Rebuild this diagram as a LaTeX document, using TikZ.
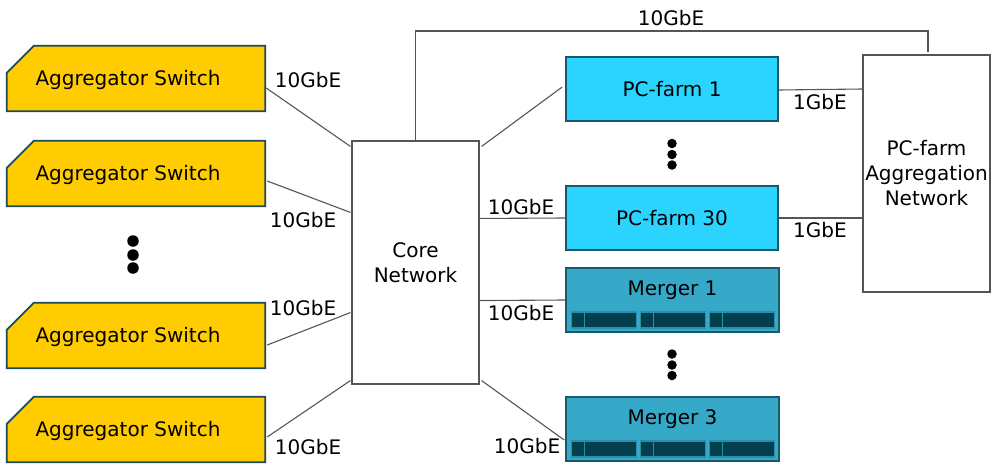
\documentclass[tikz,border=0pt]{standalone}
\usepackage{fontspec}
\setmainfont{DejaVu Sans}
\usetikzlibrary{calc,backgrounds}
\definecolor{swfill}{HTML}{FFCC00}
\definecolor{swedge}{HTML}{1A4A5C}
\definecolor{pcfill}{HTML}{2AD4FF}
\definecolor{pcedge}{HTML}{17596B}
\definecolor{mgfill}{HTML}{37A9C8}
\definecolor{mgedge}{HTML}{145B6E}
\definecolor{slotfill}{HTML}{043F50}
\definecolor{slotedge}{HTML}{2A8EA8}
\definecolor{linkgray}{HTML}{555555}
\tikzset{
  boxtext/.style={text height=14.8pt, text depth=0pt},
  switchbox/.style={minimum width=258pt, minimum height=65pt, inner sep=0pt, boxtext},
  switchshape/.style={draw=swedge, fill=swfill, line width=1.8pt},
  pcbox/.style={draw=pcedge, fill=pcfill, line width=1.6pt, minimum width=212pt, minimum height=64pt, inner sep=0pt, boxtext},
  mergerbox/.style={draw=mgedge, fill=mgfill, line width=1.6pt, minimum width=213pt, minimum height=64pt, inner sep=0pt},
  netbox/.style={draw=linkgray, fill=white, line width=1.1pt, inner sep=0pt, align=center},
  link/.style={draw=linkgray, line width=1.1pt},
  rate/.style={inner sep=0pt},
  dot/.style={circle, fill=black, inner sep=0pt, minimum size=#1},
  slot/.style={draw=slotedge, fill=slotfill, line width=1.4pt}
}
\begin{document}
\begin{tikzpicture}[x=1pt, y=-1pt, font=\fontsize{20}{25}\selectfont]
\useasboundingbox (0,0) rectangle (992,463);

% aggregator switches
\foreach \n/\y in {sw1/78.5, sw2/173.5, sw3/335.5, sw4/429.5}{
  \node[switchbox] (\n) at (136,\y) {\hspace*{-16pt}Aggregator Switch};
}
\begin{scope}[on background layer]
  \foreach \n in {sw1,sw2,sw3,sw4}{
    \draw[switchshape] (\n.south west) -- ([yshift=-27pt]\n.north west)
      -- ([xshift=27pt]\n.north west) -- (\n.north east) -- (\n.south east) -- cycle;
  }
\end{scope}

% core and aggregation networks
\node[netbox, minimum width=127pt, minimum height=243pt] (core) at (415.5,262.5) {Core\\Network};
\node[netbox, minimum width=127pt, minimum height=237pt] (agg) at (926.5,173.5) {PC-farm\\Aggregation\\Network};

% PC farms
\node[pcbox] (pc1) at (672,89) {PC-farm 1};
\node[pcbox] (pc30) at (672,218) {PC-farm 30};

% mergers with their drive slots
\foreach \n/\y/\t in {mg1/300/Merger 1, mg3/429/Merger 3}{
  \node[mergerbox, label={[yshift=12pt, inner sep=0pt, boxtext]center:\t}] (\n) at (672.5,\y) {};
  \foreach \i in {0,1,2}{
    \draw[slot] ([xshift={6pt+69pt*\i}, yshift=5pt]\n.south west) rectangle ([xshift={71pt+69pt*\i}, yshift=21pt]\n.south west);
    \draw[slotedge, line width=1.1pt] ([xshift={19pt+69pt*\i}, yshift=5pt]\n.south west) -- ([xshift={19pt+69pt*\i}, yshift=21pt]\n.south west);
  }
}

% ellipsis dots
\foreach \y [count=\k] in {241,255,268}{ \node[dot=11.5pt] (ld\k) at (133,\y) {}; }
\foreach \y [count=\k] in {143.5,154.5,165}{ \node[dot=9.5pt] (pd\k) at (672,\y) {}; }
\foreach \y [count=\k] in {354,365,375.5}{ \node[dot=9.5pt] (md\k) at (672,\y) {}; }

% switch uplinks
\draw[link] ([xshift=1pt, yshift=-9.5pt]sw1.east) -- ([xshift=-1pt, yshift=-6pt]core.north west);
\draw[link] ([xshift=2pt, yshift=-7.5pt]sw2.east) -- ([xshift=-1pt, yshift=-72pt]core.north west);
\draw[link] ([xshift=2pt, yshift=-9.5pt]sw3.east) -- ([xshift=-1pt, yshift=72pt]core.south west);
\draw[link] ([xshift=2pt, yshift=-7.5pt]sw4.east) -- ([xshift=-1pt, yshift=4pt]core.south west);

% core to farms and mergers
\draw[link] ([xshift=2pt, yshift=-6pt]core.north east) -- ([xshift=-3pt, yshift=2pt]pc1.west);
\draw[link] ([yshift=-78pt]core.north east) -- (pc30.west);
\draw[link] ([yshift=84pt]core.south east) -- (mg1.west);
\draw[link] ([xshift=2pt, yshift=4pt]core.south east) -- ([xshift=-1pt, yshift=-11pt]mg3.west);

% farms to aggregation network
\draw[link] ([yshift=-1pt]pc1.east) -- (pc1.east -| agg.west);
\draw[link] (pc30.east) -- (pc30.east -| agg.west);

% core to aggregation network over the top
\coordinate (topleft) at (core.north |- 0,31);
\coordinate (topright) at (928,31);
\draw[link] (core.north) -- (topleft) -- (topright) -- ([yshift=2pt]topright |- agg.north);

% link rates
\node[rate] (r0) at (671,18) {10GbE};
\node[rate] (r1) at (308,80) {10GbE};
\node[rate] (r2) at (303,220) {10GbE};
\node[rate] (r3) at (303,308) {10GbE};
\node[rate] (r4) at (308,447) {10GbE};
\node[rate] (r5) at (521,207) {10GbE};
\node[rate] (r6) at (521,313) {10GbE};
\node[rate] (r7) at (527,446) {10GbE};
\node[rate] (r8) at (820,102) {1GbE};
\node[rate] (r9) at (820,230) {1GbE};
\end{tikzpicture}
\end{document}
